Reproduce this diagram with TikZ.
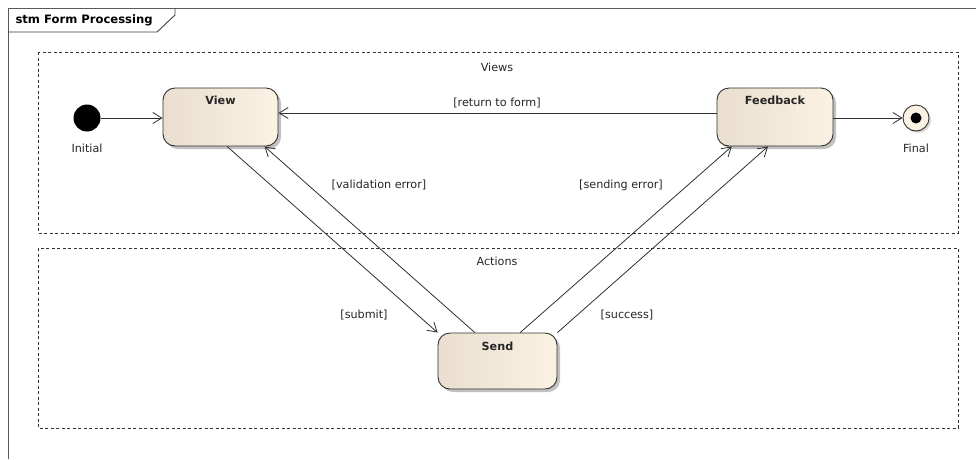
\documentclass[tikz,border=0pt]{standalone}
\usepackage{fontspec}
\setmainfont{DejaVu Sans}
\usetikzlibrary{arrows.meta,shadows,calc}
\definecolor{stateL}{HTML}{E9DECF}
\definecolor{stateR}{HTML}{FBF2E4}
\definecolor{edge}{HTML}{303030}
\begin{document}
\begin{tikzpicture}[x=1pt,y=-1pt,
  every node/.style={font=\fontsize{11.2}{13}\selectfont, text=black!85},
  statebox/.style={draw=edge, line width=0.9pt, rounded corners=12pt,
    left color=stateL, right color=stateR, shading angle=90,
    drop shadow={shadow xshift=3pt, shadow yshift=-3pt, fill=black!30, opacity=0.8},
    inner sep=0pt},
  statename/.style={font=\fontsize{11.2}{13}\selectfont\bfseries, text=black!85},
  region/.style={draw=black!80, dash pattern=on 3pt off 2.5pt, line width=0.7pt},
  trans/.style={draw=edge, line width=0.8pt, -{Straight Barb[length=9pt,width=11pt,line width=0.8pt]}},
  guard/.style={inner sep=1pt}
]
\useasboundingbox (0,0) rectangle (976,459);
\fill[white] (0,0) rectangle (976,459);
% frame
\draw[black!65, line width=1pt] (8,459) -- (8,8) -- (976,8);
\draw[black!75, line width=0.9pt] (8,32) -- (157,32) -- (175,15) -- (175,8);
\node[anchor=west, font=\fontsize{11.6}{13}\selectfont\bfseries, text=black] (title) at (12,20) {stm Form Processing};
% regions
\draw[region] (38,52) rectangle (958,233);
\draw[region] (38,248) rectangle (958,428);
\node (views) at (497,67) {Views};
\node (actions) at (497,261) {Actions};
% states
\node[statebox, minimum width=115pt, minimum height=58pt] (view) at (220.5,117) {};
\node[statename] (viewname) at (220.5,100) {View};
\node[statebox, minimum width=116pt, minimum height=58pt] (feedback) at (775,117) {};
\node[statename] (feedbackname) at (775,100) {Feedback};
\node[statebox, minimum width=119pt, minimum height=56pt] (send) at (497.5,361) {};
\node[statename] (sendname) at (497.5,346) {Send};
% pseudo states
\node[circle, fill=black, minimum size=27pt, inner sep=0pt] (initial) at (87,118) {};
\node (initlbl) at (87,148) {Initial};
\node[circle, draw=edge, line width=0.9pt, fill=stateR, minimum size=26pt, inner sep=0pt,
  drop shadow={shadow xshift=2pt, shadow yshift=-2pt, fill=black!30}] (final) at (916,118) {};
\fill[black] (final.center) circle (5.5pt);
\node (finallbl) at (916,148) {Final};
% transitions
\draw[trans] (initial.east) -- (view.west |- initial.east);
\draw[trans] (feedback.west |- 0,113) -- (view.east |- 0,113);
\node[guard] (g1) at (497,103) {[return to form]};
\draw[trans] (feedback.east |- final.west) -- (final.west);
\draw[trans] ($(view.south west)!0.557!(view.south east)$) -- (send.north west);
\node[guard] (g2) at (364,315) {[submit]};
\draw[trans] ($(send.north west)!0.311!(send.north east)$) -- ($(view.south west)!0.88!(view.south east)$);
\node[guard] (g3) at (379,185) {[validation error]};
\draw[trans] ($(send.north west)!0.689!(send.north east)$) -- ($(feedback.south west)!0.13!(feedback.south east)$);
\node[guard] (g4) at (621,185) {[sending error]};
\draw[trans] (send.north east) -- ($(feedback.south west)!0.44!(feedback.south east)$);
\node[guard] (g5) at (627,315) {[success]};
\end{tikzpicture}
\end{document}
